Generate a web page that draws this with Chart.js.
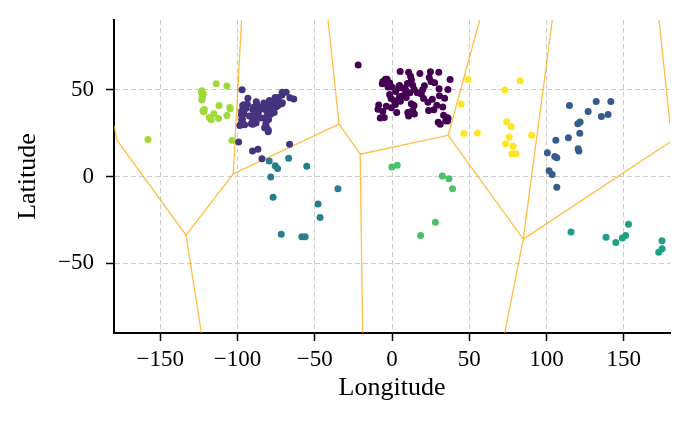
<!DOCTYPE html>
<html><head><meta charset="utf-8">
<script src="https://cdn.jsdelivr.net/npm/chart.js@4/dist/chart.umd.min.js"></script>
<style>html,body{margin:0;padding:0;background:#fff}</style>
</head><body>
<canvas id="c" width="690" height="422"></canvas>
<script>
// ---- tick labels ----
const xTicks = [-150, -100, -50, 0, 50, 100, 150];
const yTicks = [-50, 0, 50];

// ---- city clusters [longitude, latitude] ----
const clusterEurope = [[-21.9,64.1],[-6.3,53.3],[-5.9,54.6],[-4.25,55.9],[-3.2,55.95],[-2.2,53.5],[-1.9,52.5],[-0.1,51.5],[-3,53.4],[-1.5,53.8],[-2.6,51.45],[2.35,48.85],[4.8,45.75],[5.4,43.3],[-0.6,44.8],[-1.55,47.2],[1.45,43.6],[4.35,50.85],[4.9,52.37],[4.5,51.9],[10,53.55],[13.4,52.5],[11.6,48.1],[8.7,50.1],[6.95,50.9],[9.2,48.8],[8.5,47.4],[6.15,46.2],[16.4,48.2],[14.4,50.1],[21,52.2],[19.9,50.05],[19,47.5],[12.6,55.7],[10.75,59.9],[18.05,59.3],[24.9,60.2],[30.3,59.9],[5.3,60.4],[12,57.7],[24.1,56.95],[25.3,54.7],[27.6,53.9],[37.6,55.75],[30.5,50.45],[36.2,50],[30.7,46.5],[34.1,44.95],[26.1,44.4],[23.3,42.7],[20.45,44.8],[23.7,37.98],[29,41],[32.85,39.9],[27.1,38.4],[12.5,41.9],[9.2,45.5],[14.25,40.85],[13.4,38.1],[14.5,35.9],[-3.7,40.4],[2.2,41.4],[-9.1,38.7],[-8.6,41.15],[-6,37.4],[-0.4,39.5],[3.05,36.75],[10.2,36.8],[10.76,34.74],[-7.6,33.6],[-5,34],[35.5,33.9],[36.3,33.5],[34.8,32.1],[35.9,31.95],[33.4,35.2],[31.2,30],[29.9,31.2]];
const clusterEastNA = [[-97.1,49.9],[-93.3,45],[-87.6,41.9],[-87.9,43],[-83,42.3],[-81.7,41.5],[-80,40.4],[-83,40],[-86.2,39.8],[-84.5,39.1],[-79.4,43.7],[-73.6,45.5],[-75.7,45.4],[-71.2,46.8],[-71.1,48.4],[-68.5,48.4],[-74,40.7],[-71,42.4],[-75.2,40],[-77,38.9],[-76.6,39.3],[-78.9,42.9],[-77.6,43.2],[-76.1,43],[-73.8,42.7],[-72.7,41.8],[-71.4,41.8],[-63.6,44.6],[-66.1,45.3],[-90.2,38.6],[-89.6,39.8],[-94.6,39.1],[-96,41.3],[-96.7,40.8],[-93.6,41.6],[-97.3,37.7],[-97.5,35.5],[-96.8,32.8],[-97.3,32.75],[-95.4,29.8],[-98.5,29.4],[-97.7,30.3],[-90.1,30],[-91.1,30.4],[-90.2,32.3],[-90,35.1],[-86.8,36.2],[-85.8,38.3],[-84.4,33.7],[-86.8,33.5],[-80.8,35.2],[-78.6,35.8],[-77.4,37.5],[-76.3,36.85],[-81.6,38.3],[-79.9,32.8],[-81.1,32.1],[-81,34],[-81.7,30.3],[-81.4,28.5],[-82.5,28],[-80.2,25.8],[-80.1,26.7],[-95.9,36.15],[-92.3,34.75],[-88,30.7],[-99.3,19.8],[-90.3,14.6],[-86.8,15.7],[-84.2,10.2],[-66.3,18.5]];
const clusterWestNA = [[-113.8,53.4],[-106.9,52.0],[-123.1,49.3],[-123.4,48.4],[-122.3,47.6],[-122.4,47.25],[-122.7,45.5],[-123,44.9],[-123.1,44.05],[-121.5,38.6],[-122.4,37.8],[-121.9,37.3],[-112,40.9],[-105,39.7],[-104.8,38.8],[-115.3,36.1],[-118.3,33.9],[-117.1,32.7],[-112.3,33.3],[-106.9,35.1],[-158,21.3],[-103.6,20.7]];
const clusterSouthAsiaME = [[49.1,55.8],[82.9,55],[73.1,49.8],[44.8,41.7],[46.5,24.8],[55.3,25.0],[74.3,31.5],[77.2,28.6],[75.9,22.7],[73.6,18.8],[78.5,17.4],[77.6,13.1],[80.3,13.1],[90.4,23.7]];
const clusterEastAsia = [[114.9,40.9],[132.2,43.2],[141.7,43.2],[127,37.4],[135.6,34.5],[139.9,35.7],[120.3,30.3],[121.8,31.3],[121.6,24.9],[114.2,22.3],[106.1,20.9],[120.5,15.9],[121,14.6],[100.6,13.6],[105.4,11.5],[106.7,10.8],[101.7,3.3],[103.7,1.2],[106.7,-6.2]];
const clusterSouthAm = [[-79.5,8.9],[-75.6,6.2],[-74.1,4.6],[-66.9,10.5],[-55.2,5.9],[-78.5,-0.3],[-77,-12],[-35,-7.1],[-47.9,-15.8],[-46.6,-23.6],[-71.7,-33.2],[-58.4,-34.6],[-56.2,-34.7]];
const clusterAfrica = [[-0.1,5.5],[3.4,6.4],[32.6,0.3],[36.8,-1.3],[39.2,-7.0],[28.1,-26.3],[18.5,-34.0]];
const clusterOceania = [[115.9,-31.95],[138.6,-34.9],[144.9,-37.9],[149.1,-35.4],[151.3,-33.9],[153.1,-27.5],[174.8,-36.9],[174.9,-41.5],[172.7,-43.6]];

// ---- Voronoi boundaries between cluster centres [longitude, latitude] ----
const edge1 = [[-180,29.5],[-178.2,21],[-133.4,-33.7],[-123.4,-90]];
const edge2 = [[-133.4,-33.7],[-102.8,1.5],[-97.4,90]];
const edge3 = [[-102.8,1.5],[-34.3,30.2],[-41.4,90]];
const edge4 = [[-34.3,30.2],[-20.6,12.8],[-19,-90]];
const edge5 = [[-20.6,12.8],[36.4,23.7],[56.8,90]];
const edge6 = [[36.4,23.7],[85,-36],[73,-90]];
const edge7 = [[85,-36],[103.8,90]];
const edge8 = [[85,-36],[180,19.8]];
const edge9 = [[172.9,90],[180,30]];

const clusters = [
  [clusterEurope, '#440154'],
  [clusterEastNA, '#46337e'],
  [clusterEastAsia, '#365c8d'],
  [clusterSouthAm, '#277f8e'],
  [clusterOceania, '#1fa187'],
  [clusterAfrica, '#4ac16d'],
  [clusterWestNA, '#a0da39'],
  [clusterSouthAsiaME, '#fde725']
];
const edges = [edge1, edge2, edge3, edge4, edge5, edge6, edge7, edge8, edge9];

const toXY = arr => arr.map(p => ({x: p[0], y: p[1]}));
const datasets = [];
clusters.forEach(([pts, col]) => datasets.push({
  data: toXY(pts), backgroundColor: col, borderColor: col, borderWidth: 0,
  pointRadius: 3.5, pointHoverRadius: 3.5, order: 0
}));
edges.forEach(e => datasets.push({
  data: toXY(e), showLine: true, borderColor: 'rgba(255,165,0,0.72)', borderWidth: 1.3,
  pointRadius: 0, pointHoverRadius: 0, fill: false, tension: 0, order: 5
}));

const FONT = 'Liberation Serif';
const fmt = v => v < 0 ? '\u2212' + (-v) : String(v);

new Chart(document.getElementById('c'), {
  type: 'scatter',
  data: {datasets},
  options: {
    responsive: false, animation: false, devicePixelRatio: 1,
    layout: {padding: {top: 20, right: 20, left: 0, bottom: 0}},
    plugins: {legend: {display: false}, tooltip: {enabled: false}},
    scales: {
      x: {
        type: 'linear', min: -180, max: 180,
        afterBuildTicks: s => { s.ticks = xTicks.map(v => ({value: v})); },
        afterFit: s => { s.height = 89; s.paddingLeft = 0; s.paddingRight = 0; },
        ticks: {callback: fmt, color: '#000', font: {family: FONT, size: 23}, padding: 5, maxRotation: 0},
        grid: {color: '#cccccc', lineWidth: 1, tickColor: '#000', tickLength: 8, tickWidth: 1.5},
        border: {display: true, color: '#000', width: 2, dash: [5, 3]},
        title: {display: true, text: 'Longitude', color: '#000', font: {family: FONT, size: 26}, padding: {top: 0, bottom: 18}}
      },
      y: {
        type: 'linear', min: -90, max: 90,
        afterBuildTicks: s => { s.ticks = yTicks.map(v => ({value: v})); },
        afterFit: s => { s.width = 114; s.paddingTop = 0; s.paddingBottom = 0; },
        ticks: {callback: fmt, color: '#000', font: {family: FONT, size: 23}, padding: 12},
        grid: {color: '#cccccc', lineWidth: 1, tickColor: '#000', tickLength: 8, tickWidth: 1.5},
        border: {display: true, color: '#000', width: 2, dash: [5, 3]},
        title: {display: true, text: 'Latitude', color: '#000', font: {family: FONT, size: 26}, padding: {top: 13, bottom: 0}}
      }
    }
  }
});
</script>
</body></html>
